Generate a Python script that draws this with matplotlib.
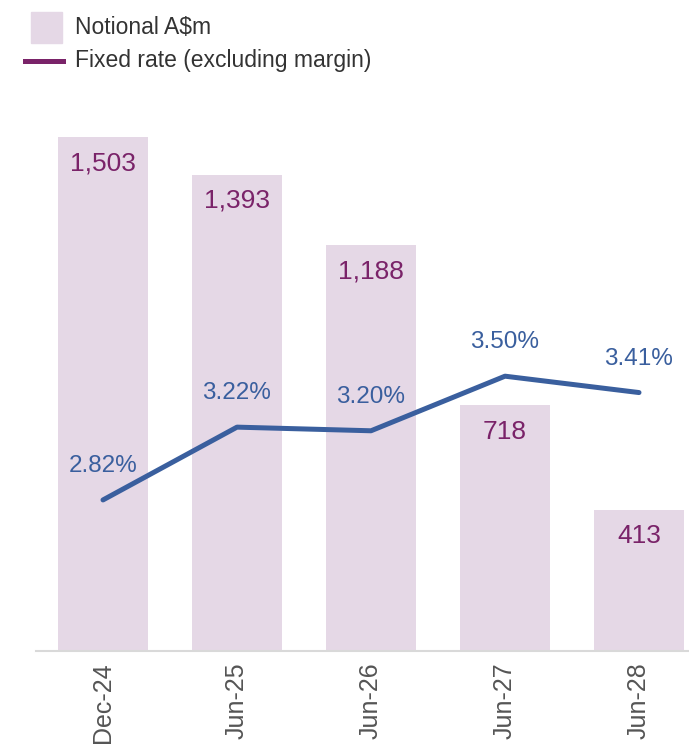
import matplotlib

matplotlib.use("Agg")

import matplotlib.pyplot as plt
from matplotlib.lines import Line2D
from matplotlib.patches import Rectangle

periods = ["Dec-24", "Jun-25", "Jun-26", "Jun-27", "Jun-28"]
notional = [1503, 1393, 1188, 718, 413]
fixed_rate = [2.82, 3.22, 3.20, 3.50, 3.41]

BAR_COLOR = "#e5d8e6"
PURPLE = "#7a2369"
BLUE = "#3a5f9e"
GREY_TEXT = "#555555"

plt.rcParams["font.family"] = ["Liberation Sans", "DejaVu Sans"]

W, H = 689, 751
fig = plt.figure(figsize=(W / 100, H / 100), dpi=100)
ax = fig.add_axes([36 / W, 100 / H, (W - 36) / W, 551 / H])

x = list(range(len(periods)))
ax.bar(x, notional, width=0.67, color=BAR_COLOR, zorder=1)
ax.set_xlim(-0.5, (W - 103) / 134)
ax.set_ylim(0, 551 / 0.342)

for xi, v in zip(x, notional):
    ax.annotate(f"{v:,}", (xi, v), xytext=(0, -19), textcoords="offset points",
                ha="center", va="center", fontsize=19, color=PURPLE)

ax2 = ax.twinx()
ax2.plot(x, fixed_rate, color=BLUE, linewidth=3.6, solid_capstyle="round", zorder=3)
ax2.set_ylim(1.99, 1.99 + 551 / 182)
for xi, r in zip(x, fixed_rate):
    ax2.annotate(f"{r:.2f}%", (xi, r), xytext=(0, 24.5), textcoords="offset points",
                 ha="center", va="center", fontsize=17.5, color=BLUE)

for a in (ax, ax2):
    for side in ("top", "right", "left"):
        a.spines[side].set_visible(False)
    a.set_yticks([])
ax.spines["bottom"].set_color("#d9d9d9")
ax.spines["bottom"].set_linewidth(1.5)
ax2.spines["bottom"].set_visible(False)

ax.set_xticks(x)
ax.set_xticklabels(periods, rotation=90, fontsize=18, color=GREY_TEXT)
ax.tick_params(axis="x", length=0, pad=8)

# Legend
fig.add_artist(Rectangle((31 / W, 1 - 43 / H), 31 / W, 31 / H,
                         transform=fig.transFigure, color=BAR_COLOR))
fig.text(75 / W, 1 - 27 / H, "Notional A$m", fontsize=16.5, color="#333333",
         va="center", ha="left")
fig.add_artist(Line2D([25 / W, 63 / W], [1 - 61 / H, 1 - 61 / H],
                      transform=fig.transFigure, color=PURPLE, linewidth=3.6))
fig.text(75 / W, 1 - 61 / H, "Fixed rate (excluding margin)", fontsize=16.5,
         color="#333333", va="center", ha="left")

fig.savefig("out.png", dpi=100, facecolor="white")
